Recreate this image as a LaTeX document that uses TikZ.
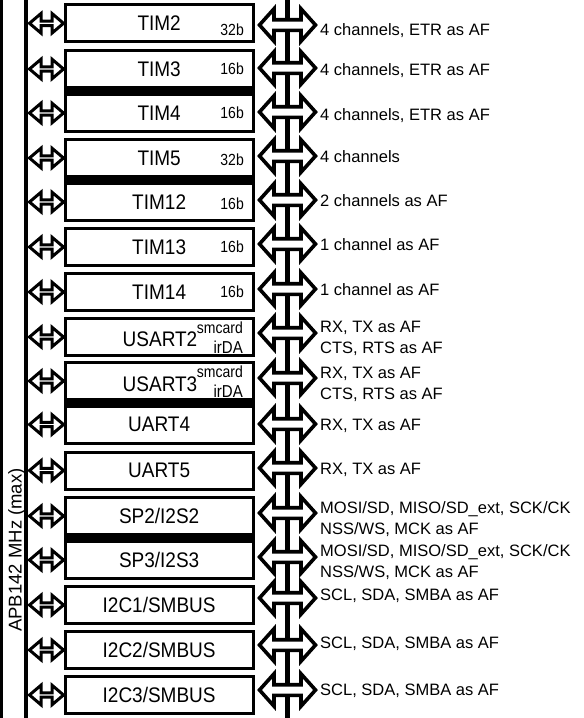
\documentclass[tikz,border=0pt]{standalone}
\usepackage{fontspec}
\setmainfont{Liberation Sans}
\usepackage{graphicx}
\newcommand{\vsb}[1]{\scalebox{1}[1.11]{#1}}
\newcommand{\vsc}[1]{\scalebox{1}[1.15]{#1}}
\newcommand{\lar}[1]{\draw[arrst] (29.5,#1) -- (41,#1-9.8) -- (41,#1-2.2) -- (52,#1-2.2) -- (52,#1-9.8) -- (63.5,#1) -- (52,#1+9.8) -- (52,#1+2.2) -- (41,#1+2.2) -- (41,#1+9.8) -- cycle;}
\newcommand{\rar}[1]{\draw[bigarrst] (259.5,#1) -- (274,#1-16.2) -- (274,#1-5.3) -- (301,#1-5.3) -- (301,#1-16.2) -- (315.5,#1) -- (301,#1+16.2) -- (301,#1+5.3) -- (274,#1+5.3) -- (274,#1+16.2) -- cycle;}
\newcommand{\band}[2]{\fill[black] (63.5,#1) rectangle (254.8,#2);}
\begin{document}
\begin{tikzpicture}[x=1pt,y=-1pt,
  boxst/.style={draw, line width=3pt, minimum width=188.3pt, minimum height=37pt, inner sep=0pt, font=\fontsize{19}{19}\selectfont},
  arrst/.style={draw, fill=white, line width=3pt, line join=miter},
  bigarrst/.style={draw, fill=white, line width=3.6pt, line join=miter},
  lbl/.style={anchor=base west, inner sep=0pt, font=\fontsize{16.5}{16.5}\selectfont},
  bits/.style={anchor=east, inner sep=0pt, font=\fontsize{14}{14}\selectfont},
  supst/.style={anchor=base east, inner sep=0pt, font=\fontsize{14}{14}\selectfont},
  boxtxt/.style={anchor=base, inner sep=0pt, font=\fontsize{19}{19}\selectfont}]
\useasboundingbox (0,0) rectangle (584,718);
% bus lines
\draw[line width=2.5pt] (1.3,0) coordinate (l1top) -- (1.3,718) coordinate (l1bot);
\draw[line width=4pt] (26,0) coordinate (bustop) -- (26,718) coordinate (busbot);
\draw[line width=5pt] (287.5,0) coordinate (rbtop) -- (287.5,718) coordinate (rbbot);
\node[rotate=90, anchor=base, inner sep=0pt, font=\fontsize{18.5}{18.5}\selectfont] (apb) at (21.7,550) {APB142 MHz (max)};
% left arrows
\lar{23.3} \lar{69} \lar{113} \lar{158} \lar{202} \lar{247} \lar{292} \lar{337}
\lar{381} \lar{424.5} \lar{470.5} \lar{516} \lar{560} \lar{605} \lar{650} \lar{695}
% right arrows
\rar{25} \rar{68} \rar{112} \rar{156} \rar{200} \rar{244} \rar{289} \rar{333}
\rar{378} \rar{424} \rar{468} \rar{513} \rar{557} \rar{598} \rar{645} \rar{690}
% merged bands
\band{89}{93} \band{178}{182} \band{401}{404.5} \band{536}{540}
% boxes
\node[boxst] (tim2) at (159.15,23.3) {\vsb{TIM2}};
\node[boxst] (tim3) at (159.15,69) {\vsb{TIM3}};
\node[boxst] (tim4) at (159.15,113) {\vsb{TIM4}};
\node[boxst] (tim5) at (159.15,158) {\vsb{TIM5}};
\node[boxst] (tim12) at (159.15,202) {\vsb{TIM12}};
\node[boxst] (tim13) at (159.15,247) {\vsb{TIM13}};
\node[boxst] (tim14) at (159.15,292) {\vsb{TIM14}};
\node[boxst] (usart2) at (159.15,337) {};
\node[boxst] (usart3) at (159.15,381) {};
\node[boxst] (uart4) at (159.15,424.5) {\vsb{UART4}};
\node[boxst] (uart5) at (159.15,470.5) {\vsb{UART5}};
\node[boxst] (sp2) at (159.15,516) {\vsb{SP2/I2S2}};
\node[boxst] (sp3) at (159.15,560) {\vsb{SP3/I2S3}};
\node[boxst] (i2c1) at (159.15,605) {\vsb{I2C1/SMBUS}};
\node[boxst] (i2c2) at (159.15,650) {\vsb{I2C2/SMBUS}};
\node[boxst] (i2c3) at (159.15,695) {\vsb{I2C3/SMBUS}};
% bit widths
\node[bits] (tim2b) at (244,30) {\vsc{32b}};
\node[bits] (tim3b) at (244,69) {\vsc{16b}};
\node[bits] (tim4b) at (244,112.5) {\vsc{16b}};
\node[bits] (tim5b) at (244,160) {\vsc{32b}};
\node[bits] (tim12b) at (244,204) {\vsc{16b}};
\node[bits] (tim13b) at (244,247) {\vsc{16b}};
\node[bits] (tim14b) at (244,292) {\vsc{16b}};
% USART texts
\node[boxtxt] (usart2t) at (160,346.7) {\vsb{USART2}};
\node[supst] (usart2s) at (243,333.3) {\vsc{smcard}};
\node[supst, font=\fontsize{15}{15}\selectfont] (usart2i) at (243,353.3) {\vsc{irDA}};
\node[boxtxt] (usart3t) at (160,391.2) {\vsb{USART3}};
\node[supst] (usart3s) at (243,377.8) {\vsc{smcard}};
\node[supst, font=\fontsize{15}{15}\selectfont] (usart3i) at (243,397.8) {\vsc{irDA}};
% right labels
\node[lbl] (l1) at (320,35) {4 channels, ETR as AF};
\node[lbl] (l2) at (320,75) {4 channels, ETR as AF};
\node[lbl] (l3) at (320,120) {4 channels, ETR as AF};
\node[lbl] (l4) at (320,162) {4 channels};
\node[lbl] (l5) at (320,206) {2 channels as AF};
\node[lbl] (l6) at (320,250) {1 channel as AF};
\node[lbl] (l7) at (320,295) {1 channel as AF};
\node[lbl] (l8a) at (320,332.7) {RX, TX as AF};
\node[lbl] (l8b) at (320,353.3) {CTS, RTS as AF};
\node[lbl] (l9a) at (320,378.3) {RX, TX as AF};
\node[lbl] (l9b) at (320,399) {CTS, RTS as AF};
\node[lbl] (l10) at (320,430.7) {RX, TX as AF};
\node[lbl] (l11) at (320,474) {RX, TX as AF};
\node[lbl] (l12a) at (320,513) {MOSI/SD, MISO/SD\_ext, SCK/CK};
\node[lbl] (l12b) at (320,534) {NSS/WS, MCK as AF};
\node[lbl] (l13a) at (320,556.7) {MOSI/SD, MISO/SD\_ext, SCK/CK};
\node[lbl] (l13b) at (320,577) {NSS/WS, MCK as AF};
\node[lbl] (l14) at (320,600.7) {SCL, SDA, SMBA as AF};
\node[lbl] (l15) at (320,648) {SCL, SDA, SMBA as AF};
\node[lbl] (l16) at (320,695) {SCL, SDA, SMBA as AF};
\end{tikzpicture}
\end{document}
